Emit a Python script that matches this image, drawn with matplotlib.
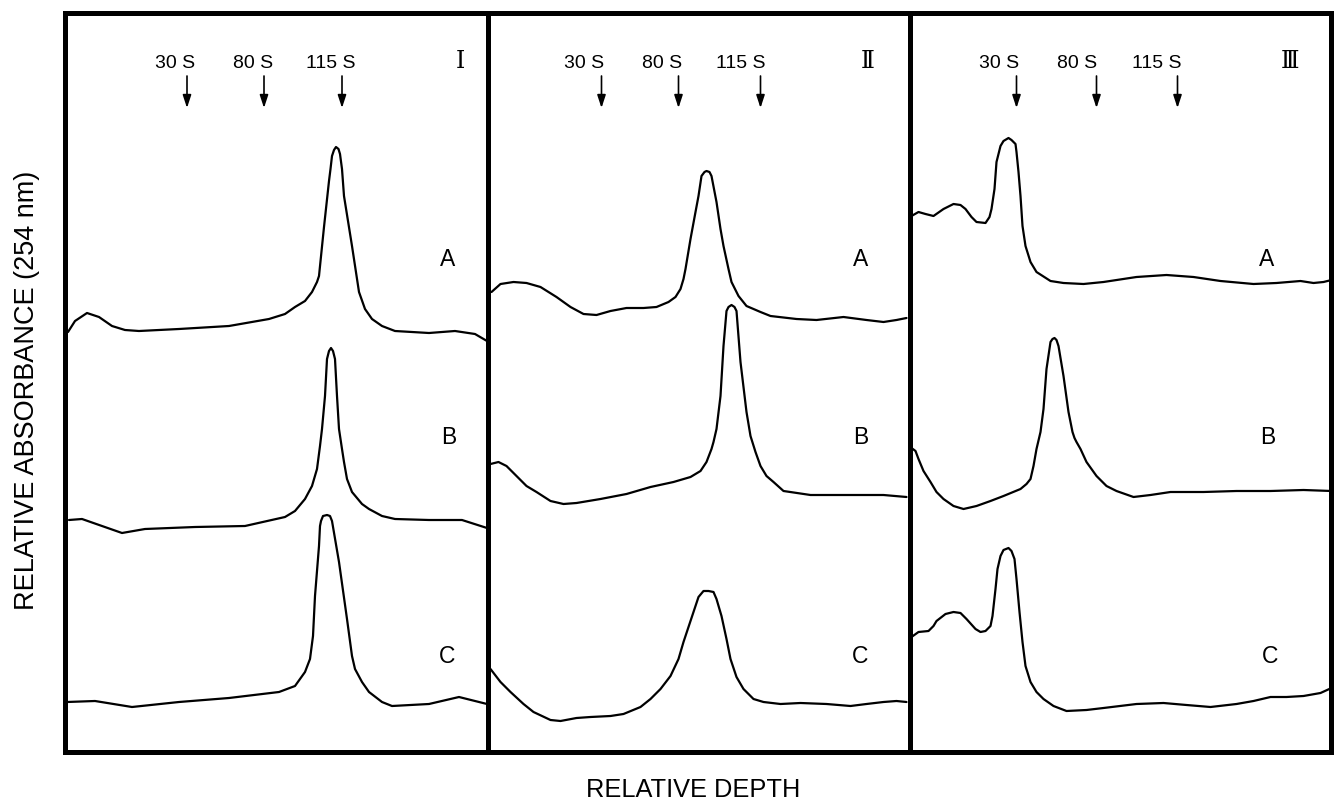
import matplotlib
matplotlib.use("Agg")
import matplotlib.pyplot as plt

# ---------------- data ----------------
curve_names = ["A", "B", "C"]
panel_names = ["Ⅰ", "Ⅱ", "Ⅲ"]
marker_names = ["30 S", "80 S", "115 S"]

# Panel I
I_A_depth = [3, 10, 22, 34, 47, 60, 74, 114, 164, 204, 220, 230, 240, 247, 252, 254, 259, 264, 265.5, 267,
             269, 271, 273.5, 275, 277, 279, 283, 287, 294, 300, 307, 317, 330, 364, 390, 410, 422]
I_A_abs = [422, 433, 441, 437, 428, 424, 423, 425, 428, 435, 440, 447, 453, 462, 472, 478, 527, 573, 585, 598,
           604, 607, 605, 600, 585, 558, 533, 508, 462, 445, 435, 428, 423, 421, 423, 420, 413]
I_B_depth = [4, 17, 37, 57, 80, 130, 180, 220, 230, 240, 247, 252, 255, 257, 260, 262, 264, 266, 268, 270,
             272, 274, 277, 279, 282, 287, 297, 304, 317, 330, 364, 397, 422]
I_B_abs = [234, 235, 228, 221, 225, 227, 228, 237, 243, 255, 268, 285, 308, 325, 358, 395, 403, 406, 403, 395,
           358, 325, 305, 292, 275, 262, 250, 245, 238, 235, 234, 234, 226]
I_C_depth = [2, 30, 67, 114, 164, 214, 230, 240, 245, 248, 250, 254, 255, 256, 258, 262, 265, 267, 274, 282,
             287, 290, 297, 304, 317, 327, 364, 394, 422]
I_C_abs = [52, 53, 47, 52, 56, 62, 68, 82, 95, 118, 158, 208, 228, 233, 238, 239, 238, 233, 192, 135,
           98, 85, 72, 62, 52, 48, 50, 57, 50]

# Panel II
II_A_depth = [4, 13, 26, 39, 53, 69, 83, 96, 109, 123, 139, 156, 169, 181, 188, 193, 196, 198, 203, 208,
              211, 214, 217, 219, 222, 224, 229, 233, 236, 241, 244, 251, 259, 273, 283, 309, 329, 356, 379, 396,
              409, 419]
II_A_abs = [462, 470, 472, 471, 467, 457, 447, 440, 439, 443, 446, 446, 447, 452, 457, 465, 475, 485, 515, 542,
            558, 578, 582, 583, 582, 578, 552, 525, 508, 485, 472, 458, 448, 442, 438, 435, 434, 437, 434, 432,
            434, 436]
II_B_depth = [3, 11, 19, 29, 39, 49, 63, 76, 89, 113, 139, 163, 186, 203, 213, 219, 224, 226, 229, 233,
              236, 239, 241, 244, 247, 249, 253, 259, 263, 268, 273, 279, 286, 296, 323, 363, 396, 419]
II_B_abs = [290, 292, 288, 278, 268, 262, 253, 250, 251, 255, 260, 267, 272, 277, 283, 292, 305, 312, 325, 358,
            408, 443, 447, 449, 447, 443, 392, 342, 318, 302, 288, 278, 272, 263, 259, 259, 259, 257]
II_C_depth = [3, 13, 23, 36, 46, 63, 73, 89, 103, 123, 136, 153, 163, 173, 183, 191, 196, 201, 206, 211,
              216, 221, 226, 229, 234, 239, 243, 249, 256, 266, 276, 293, 313, 339, 363, 379, 396, 409, 419]
II_C_abs = [85, 72, 62, 50, 42, 34, 33, 36, 37, 38, 40, 47, 55, 65, 78, 95, 112, 127, 142, 157,
            163, 163, 162, 155, 138, 115, 95, 77, 65, 55, 52, 50, 51, 50, 48, 50, 52, 53, 52]

# Panel III
III_A_depth = [2, 9, 16, 24, 34, 44, 51, 56, 62, 67, 76, 80, 82, 85, 87, 91, 94, 99, 102, 106,
               107, 109, 111, 113, 116, 121, 127, 141, 154, 174, 194, 227, 257, 284, 311, 344, 367, 391, 404, 414,
               422]
III_A_abs = [538, 542, 540, 538, 545, 550, 549, 545, 537, 532, 531, 537, 545, 565, 592, 608, 613, 616, 614, 610,
             602, 582, 558, 528, 508, 492, 482, 473, 471, 470, 472, 477, 479, 477, 473, 470, 471, 473, 471, 472,
             474]
III_B_depth = [2, 6, 9, 14, 21, 27, 34, 44, 54, 67, 81, 94, 111, 117, 121, 124, 127, 131, 134, 137,
               141, 143, 145, 147, 149, 154, 159, 163, 165, 167, 171, 177, 187, 197, 207, 224, 241, 261, 294, 327,
               361, 394, 422]
III_B_abs = [306, 303, 295, 283, 272, 262, 255, 248, 245, 248, 253, 258, 265, 270, 275, 288, 305, 322, 345, 385,
             412, 415, 416, 414, 408, 378, 342, 322, 316, 312, 305, 292, 278, 268, 263, 257, 259, 262, 262, 263,
             263, 264, 263]
III_C_depth = [2, 9, 19, 24, 27, 36, 44, 51, 57, 66, 71, 76, 81, 83, 86, 88, 91, 94, 99, 102,
               105, 107, 110, 113, 116, 121, 127, 134, 144, 157, 177, 194, 227, 254, 277, 301, 327, 344, 361, 377,
               394, 411, 422]
III_C_abs = [117, 122, 123, 128, 133, 140, 142, 141, 135, 125, 122, 123, 128, 138, 165, 185, 198, 204, 206, 203,
             195, 175, 142, 112, 88, 72, 62, 55, 48, 43, 44, 46, 50, 51, 49, 47, 50, 53, 57, 57,
             58, 61, 66]

# sedimentation markers (arrow depth positions)
I_marker_depth = [122, 199, 277]
II_marker_depth = [114, 191, 273]
III_marker_depth = [107, 187, 268]

panels = [
    ([(I_A_depth, I_A_abs), (I_B_depth, I_B_abs), (I_C_depth, I_C_abs)], I_marker_depth),
    ([(II_A_depth, II_A_abs), (II_B_depth, II_B_abs), (II_C_depth, II_C_abs)], II_marker_depth),
    ([(III_A_depth, III_A_abs), (III_B_depth, III_B_abs), (III_C_depth, III_C_abs)], III_marker_depth),
]

# ---------------- layout ----------------
W, H = 1336, 804
panel_edges = [(65, 487.5), (487.5, 909.5), (909.5, 1331)]
top_px, bot_px = 14, 753
label_centers = [[110, 188, 266], [97, 175, 253], [90, 168, 247]]
curve_label_x = [[383, 384, 382], [373, 373, 373], [357, 358, 361]]
curve_label_y = [495, 317, 98]
roman_x = [395, 380, 380]

fig = plt.figure(figsize=(W / 100, H / 100), dpi=100)
fig.patch.set_facecolor("white")

sans = "Liberation Sans"
for i, (curves, mdepth) in enumerate(panels):
    l, r = panel_edges[i]
    ax = fig.add_axes([l / W, (H - bot_px) / H, (r - l) / W, (bot_px - top_px) / H])
    ax.set_xlim(0, r - l)
    ax.set_ylim(755 - bot_px, 755 - top_px)
    ax.set_xticks([])
    ax.set_yticks([])
    for s in ax.spines.values():
        s.set_linewidth(3.6)
        s.set_color("black")
    for (xd, yd) in curves:
        ax.plot(xd, yd, color="black", lw=1.6, solid_joinstyle="round", solid_capstyle="round")
    for j, name in enumerate(curve_names):
        ax.text(curve_label_x[i][j], curve_label_y[j], name, fontsize=16.5, family=sans,
                ha="center", va="center")
    for j, (md, mn) in enumerate(zip(mdepth, marker_names)):
        ax.annotate("", xy=(md, 646), xytext=(md, 678),
                    arrowprops=dict(arrowstyle="-|>,head_length=0.55,head_width=0.18",
                                    color="black", lw=1.2, shrinkA=0, shrinkB=0, mutation_scale=14))
        ax.text(label_centers[i][j], 692, mn, fontsize=14, family=sans, ha="center", va="center")
    ax.text(roman_x[i], 693, panel_names[i], fontsize=17, family=["DejaVu Serif", "DejaVu Sans"],
            ha="center", va="center")

fig.text(27 / W, 1 - 390 / H, "RELATIVE ABSORBANCE (254 nm)", rotation=90, fontsize=19.5,
         family=sans, ha="center", va="center")
fig.text(693 / W, 1 - 790 / H, "RELATIVE DEPTH", fontsize=18.3, family=sans, ha="center", va="center")

fig.savefig("out.png", dpi=100, facecolor="white")
